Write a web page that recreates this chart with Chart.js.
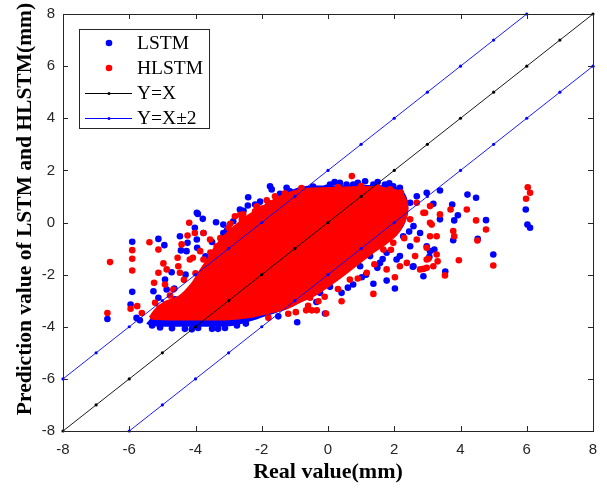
<!DOCTYPE html>
<html>
<head>
<meta charset="utf-8">
<script src="https://cdn.jsdelivr.net/npm/chart.js@4.4.0/dist/chart.umd.min.js"></script>
<style>
  html, body { margin: 0; padding: 0; background: #fff; }
</style>
</head>
<body>
<canvas id="scatterChart" width="607" height="489"></canvas>
<script>
// tick values for both axes
const tickValues = [-8, -6, -4, -2, 0, 2, 4, 6, 8];

// dense part of the LSTM cloud (outline)
const lstmCloudX = [-5.49, -5.30, -4.92, -4.11, -3.62, -3.40, -2.80, -2.36, -1.60, -1.15, -0.69, 0.06, 0.97, 1.72, 2.17, 2.38, 2.42, 2.29, 2.05, 1.72, 1.33, 0.97, 0.51, 0.06, -0.39, -0.85, -1.30, -1.81, -2.51, -2.96, -3.86, -4.92, -5.37, -5.49];
const lstmCloudY = [-3.88, -3.62, -3.20, -2.50, -1.55, -1.05, -0.30, 0.15, 0.80, 1.22, 1.40, 1.42, 1.44, 1.42, 1.30, 0.96, 0.42, -0.12, -0.50, -0.84, -1.15, -1.50, -1.96, -2.38, -2.76, -3.08, -3.35, -3.57, -3.86, -3.98, -4.00, -4.00, -3.96, -3.88];

// dense part of the HLSTM cloud
const hlstmCloudX = [-5.37, -5.19, -4.92, -4.47, -4.11, -3.86, -3.62, -3.40, -3.10, -2.80, -2.40, -1.98, -1.54, -1.09, -0.69, 0.06, 0.97, 1.72, 2.11, 2.33, 2.38, 2.26, 2.05, 1.72, 1.33, 0.97, 0.51, 0.06, -0.39, -0.85, -1.30, -1.81, -2.35, -3.11, -4.02, -4.77, -5.22, -5.37];
const hlstmCloudY = [-3.65, -3.34, -3.07, -2.84, -2.38, -1.88, -1.42, -0.95, -0.50, -0.15, 0.25, 0.58, 0.92, 1.15, 1.27, 1.30, 1.34, 1.30, 1.19, 0.88, 0.42, -0.04, -0.46, -0.81, -1.15, -1.50, -1.96, -2.38, -2.76, -3.03, -3.30, -3.45, -3.61, -3.70, -3.70, -3.70, -3.68, -3.65];

// scattered LSTM points
const lstmX = [-5.91, -5.12, -4.94, -4.47, -4.24, -4.02, -3.93, -4.44, -4.27, -4.92, -4.72, -5.91, -5.27, -5.96, -6.66, -5.78, -5.68, -5.12, -4.87, -4.64, -3.96, -3.76,
  -1.75, -1.70, -1.25, -1.15, -2.41, -2.42, -2.20, -2.66, -3.96, -3.78, -3.38, -3.16, -2.86, -3.95, -3.16,
  -3.50, -3.05, -2.55, -2.05, -1.45, -4.30, -3.70,
  -0.94, -0.54, -0.29, -0.04, 0.06, 0.36, 0.56, 0.76, 1.12, 1.37, 1.72, 1.97, 2.17, 0.20, 0.90, 1.50, -0.45, 1.85,
  2.27, 2.48, 2.68, 2.98, 3.38, 2.17, 2.58, 2.78, 2.27, 2.48, 1.77, 1.27, 0.97, 1.57, 2.07, 2.58, 3.08, 2.98, 3.75, 4.21, 4.47, 3.92, 3.81, 4.77, 4.52, 3.78, 3.21, 3.06, 4.99, 3.54, 2.88, 5.97, 6.02, 6.10, 3.18, 3.38,
  2.02, 1.77, 1.37, 0.76, 0.41, -0.09, 1.49, -0.93, 2.56, 2.17, 1.02, 0.06, -0.24, -0.54,
  0.60, 1.15, 1.65, -0.35, -1.50, 2.45,
  -5.31, -5.07, -4.71, -4.32, -3.92, -3.50, -3.11, -2.75, -2.48, -3.32, -4.11, -4.62];
const lstmY = [-0.74, -0.63, -0.87, -0.53, -0.78, -0.20, 0.33, -1.07, -1.10, -2.19, -1.91, -2.66, -2.64, -3.15, -3.70, -3.66, -3.75, -2.89, -2.57, -2.53, -0.65, -0.40,
  1.39, 1.27, 1.33, 1.20, 0.97, 0.65, 0.69, 0.50, 0.37, 0.14, 0.01, -0.08, 0.05, -0.97, -0.40,
  -0.75, -0.30, 0.45, 0.80, 1.10, -2.00, -1.30,
  1.01, 1.20, 1.27, 1.33, 1.46, 1.52, 1.46, 1.46, 1.58, 1.46, 1.46, 1.39, 1.33, 1.55, 1.52, 1.55, 1.38, 1.50,
  0.50, 0.76, 1.01, 1.14, 1.23, 0.12, -0.14, -0.40, -0.53, -0.91, -1.16, -1.29, -1.68, -1.55, -1.42, -1.68, -1.10, -0.91, 0.69, 1.07, 0.95, 0.28, 0.08, 0.09, -0.63, -0.68, -1.04, -1.32, -1.23, -1.88, -2.06, 0.50, -0.08, -0.20, 0.72, 0.12,
  -2.53, -2.23, -2.35, -2.38, -2.70, -3.49, -1.74, -3.83, -1.70, -1.29, -2.10, -2.47, -2.70, -2.57,
  -2.50, -2.00, -1.40, -3.05, -3.60, -0.35,
  -3.95, -4.03, -4.06, -4.08, -4.05, -4.08, -4.05, -3.95, -3.88, -4.08, -4.10, -2.95];

// scattered HLSTM points
const hlstmX = [-6.58, -5.91, -5.91, -5.91, -5.39, -5.12, -4.97, -5.12, -5.25, -4.54, -4.52, -4.87, -4.67, -4.19, -4.24, -4.42, -4.17, -4.47, -5.22, -5.96, -5.76, -6.66, -5.62, -5.09, -4.92, -4.77,
  -1.80, -2.00, -2.20, -2.56, -2.81, -4.02, -3.76, -3.56, -3.36, -3.86, -4.08, -3.76, -1.60, -1.40, -3.00, -2.60,
  -3.55, -3.25, -2.95, -2.65, -2.15, -1.85, -1.30, -4.35, -4.00,
  0.72, 1.87, -0.80, 0.30, 1.00, 1.50, 2.20,
  2.68, 2.88, 3.08, 3.08, 2.48, 2.68, 2.98, 2.78, 2.17, 1.67, 1.97, 1.37, 3.18, 3.28, 6.03, 6.10, 5.98, 4.19, 4.47, 4.77, 3.78, 3.81, 4.51, 3.95, 4.99, 2.98, 3.28, 3.31, 2.98, 2.88, 3.53, 3.03, 3.70, 3.38, 2.93, 3.13, 3.08,
  2.02, 1.37, 0.41, -0.06, -0.34, -0.49, -0.66, 1.77, 2.63, 2.38, 0.66, 1.17, -0.29, -0.54, -0.97,
  0.30, 0.90, 1.40, 1.90, 2.30, -0.60, -1.20, -1.80, -0.10];
const hlstmY = [-1.52, -1.06, -1.39, -1.84, -0.76, -1.04, -1.57, -1.93, -2.31, -1.35, -1.68, -1.80, -2.57, -0.01, -0.50, -0.84, -1.42, -1.93, -3.08, -3.31, -3.21, -3.47, -3.47, -3.27, -2.38, -2.80,
  0.76, 0.54, 0.43, 0.31, 0.24, -0.40, -0.40, -0.65, -0.91, -1.10, -1.35, -1.42, 1.01, 0.88, -0.20, 0.10,
  -1.15, -0.60, -0.05, 0.30, 0.62, 0.85, 1.12, -2.20, -1.95,
  1.78, 1.27, 1.32, 1.36, 1.40, 1.34, 1.15,
  0.76, 0.37, 0.63, -0.01, 0.12, -0.65, -1.42, -1.80, -1.68, -1.04, -0.78, -0.91, -1.68, -0.53, 1.35, 1.14, 0.91, 0.50, 0.08, -0.27, -0.33, -0.53, -0.69, -1.45, -1.65, -0.97, -1.23, -1.49, -1.74, -1.78, -2.03, -1.39, 0.50, 0.31, 0.37, -0.08, -0.53,
  -2.10, -2.74, -3.02, -3.49, -3.37, -3.37, -3.37, -1.80, -1.29, -1.55, -2.19, -1.93, -3.02, -2.89, -3.44,
  -2.55, -2.15, -1.60, -1.05, -0.60, -3.20, -3.50, -3.65, -2.85];

// reference lines
const refX = [-8, -7, -6, -5, -4, -3, -2, -1, 0, 1, 2, 3, 4, 5, 6, 7, 8];
const refY = [-8, -7, -6, -5, -4, -3, -2, -1, 0, 1, 2, 3, 4, 5, 6, 7, 8];
const upperX = [-8, -7, -6, -5, -4, -3, -2, -1, 0, 1, 2, 3, 4, 5, 6];
const upperY = [-6, -5, -4, -3, -2, -1, 0, 1, 2, 3, 4, 5, 6, 7, 8];
const lowerX = [-6, -5, -4, -3, -2, -1, 0, 1, 2, 3, 4, 5, 6, 7, 8];
const lowerY = [-8, -7, -6, -5, -4, -3, -2, -1, 0, 1, 2, 3, 4, 5, 6];

const BLUE = '#0000ff';
const RED = '#ff0000';
const AXIS = '#262626';
const SERIF = '"Liberation Serif", "Times New Roman", serif';
const Y_TITLE = 'Prediction value of LSTM and HLSTM(mm)';

function pairs(xs, ys) {
    return xs.map((x, i) => ({ x: x, y: ys[i] }));
}

// box around the plot with inward ticks, like matlab
const boxPlugin = {
    id: 'matlabBox',
    afterDatasetsDraw(chart) {
        const { ctx, chartArea: a, scales } = chart;
        ctx.save();
        ctx.strokeStyle = AXIS;
        ctx.lineWidth = 1;
        ctx.strokeRect(Math.round(a.left) + 0.5, Math.round(a.top) + 0.5,
            Math.round(a.right - a.left), Math.round(a.bottom - a.top));
        ctx.beginPath();
        tickValues.forEach(v => {
            const px = Math.round(scales.x.getPixelForValue(v)) + 0.5;
            const py = Math.round(scales.y.getPixelForValue(v)) + 0.5;
            ctx.moveTo(px, a.bottom); ctx.lineTo(px, a.bottom - 5);
            ctx.moveTo(px, a.top); ctx.lineTo(px, a.top + 5);
            ctx.moveTo(a.left, py); ctx.lineTo(a.left + 5, py);
            ctx.moveTo(a.right, py); ctx.lineTo(a.right - 5, py);
        });
        ctx.stroke();
        ctx.restore();
    }
};

// y axis title, drawn by hand so it can sit a bit above the centre like the original
const yTitlePlugin = {
    id: 'yTitle',
    afterDraw(chart) {
        const ctx = chart.ctx;
        ctx.save();
        ctx.translate(25, 209);
        ctx.rotate(-Math.PI / 2);
        ctx.font = 'bold 21.5px ' + SERIF;
        ctx.fillStyle = '#000000';
        ctx.textAlign = 'center';
        ctx.textBaseline = 'middle';
        ctx.fillText(Y_TITLE, 0, 0);
        ctx.restore();
    }
};

// legend box in the upper left corner of the plot
const legendPlugin = {
    id: 'innerLegend',
    afterDraw(chart) {
        const { ctx, chartArea: a } = chart;
        const left = a.left + 16, top = a.top + 15;
        const items = [
            { text: 'LSTM', color: BLUE, line: false },
            { text: 'HLSTM', color: RED, line: false },
            { text: 'Y=X', color: '#000000', line: true },
            { text: 'Y=X\u00b12', color: BLUE, line: true }
        ];
        ctx.save();
        ctx.fillStyle = '#ffffff';
        ctx.fillRect(left, top, 130, 99);
        ctx.strokeStyle = AXIS;
        ctx.lineWidth = 1;
        ctx.strokeRect(left + 0.5, top + 0.5, 130, 99);
        ctx.font = '19.5px ' + SERIF;
        ctx.textBaseline = 'middle';
        items.forEach((it, i) => {
            const y = top + 14 + i * 25;
            const mx = left + 30;
            if (it.line) {
                ctx.strokeStyle = it.color;
                ctx.lineWidth = 1;
                ctx.beginPath();
                ctx.moveTo(left + 6, y + 0.5);
                ctx.lineTo(left + 53, y + 0.5);
                ctx.stroke();
                ctx.fillStyle = it.color;
                ctx.beginPath();
                ctx.arc(mx, y + 0.5, 1.5, 0, Math.PI * 2);
                ctx.fill();
            } else {
                ctx.fillStyle = it.color;
                ctx.beginPath();
                ctx.arc(mx, y, 3.3, 0, Math.PI * 2);
                ctx.fill();
            }
            ctx.fillStyle = '#000000';
            ctx.fillText(it.text, left + 58, y + 1);
        });
        ctx.restore();
    }
};

const lineStyle = (color) => ({
    type: 'line',
    borderColor: color,
    backgroundColor: color,
    borderWidth: 0.9,
    pointRadius: 1.6,
    pointBorderWidth: 0,
    fill: false,
    tension: 0,
    clip: false,
    order: 0
});

new Chart(document.getElementById('scatterChart'), {
    type: 'scatter',
    data: {
        datasets: [
            Object.assign({ label: 'Y=X', data: pairs(refX, refY) }, lineStyle('#000000')),
            Object.assign({ label: 'Y=X+2', data: pairs(upperX, upperY) }, lineStyle(BLUE)),
            Object.assign({ label: 'Y=X-2', data: pairs(lowerX, lowerY) }, lineStyle(BLUE)),
            {
                label: 'HLSTM',
                data: pairs(hlstmX, hlstmY),
                backgroundColor: RED,
                pointRadius: 3.3,
                pointBorderWidth: 0,
                order: 1
            },
            {
                label: 'HLSTM cloud',
                type: 'line',
                data: pairs(hlstmCloudX, hlstmCloudY),
                borderColor: RED,
                backgroundColor: RED,
                borderWidth: 3,
                pointRadius: 0,
                fill: 'shape',
                tension: 0.3,
                order: 2
            },
            {
                label: 'LSTM',
                data: pairs(lstmX, lstmY),
                backgroundColor: BLUE,
                pointRadius: 3.3,
                pointBorderWidth: 0,
                order: 3
            },
            {
                label: 'LSTM cloud',
                type: 'line',
                data: pairs(lstmCloudX, lstmCloudY),
                borderColor: BLUE,
                backgroundColor: BLUE,
                borderWidth: 0,
                pointRadius: 0,
                fill: 'shape',
                tension: 0.3,
                order: 4
            }
        ]
    },
    options: {
        responsive: false,
        animation: false,
        layout: { padding: { top: 14, right: 14, left: 0, bottom: 0 } },
        plugins: {
            legend: { display: false },
            tooltip: { enabled: false }
        },
        scales: {
            x: {
                type: 'linear',
                min: -8,
                max: 8,
                afterBuildTicks: (s) => { s.ticks = tickValues.map(v => ({ value: v })); },
                ticks: {
                    color: AXIS,
                    font: { family: '"Liberation Sans", Arial, sans-serif', size: 15 },
                    padding: 10,
                    maxRotation: 0
                },
                grid: { display: false, drawTicks: false },
                border: { display: false },
                title: {
                    display: true,
                    text: 'Real value(mm)',
                    color: '#000000',
                    font: { family: SERIF, size: 22, weight: 'bold' },
                    padding: { top: 0, bottom: 3 }
                },
                afterFit: (s) => { s.height = 58; s.paddingLeft = 0; s.paddingRight = 0; }
            },
            y: {
                type: 'linear',
                min: -8,
                max: 8,
                afterBuildTicks: (s) => { s.ticks = tickValues.map(v => ({ value: v })); },
                ticks: {
                    color: AXIS,
                    font: { family: '"Liberation Sans", Arial, sans-serif', size: 15 },
                    padding: 8
                },
                grid: { display: false, drawTicks: false },
                border: { display: false },
                title: { display: false },
                afterFit: (s) => { s.width = 63; s.paddingTop = 0; s.paddingBottom = 0; }
            }
        }
    },
    plugins: [boxPlugin, yTitlePlugin, legendPlugin]
});
</script>
</body>
</html>
